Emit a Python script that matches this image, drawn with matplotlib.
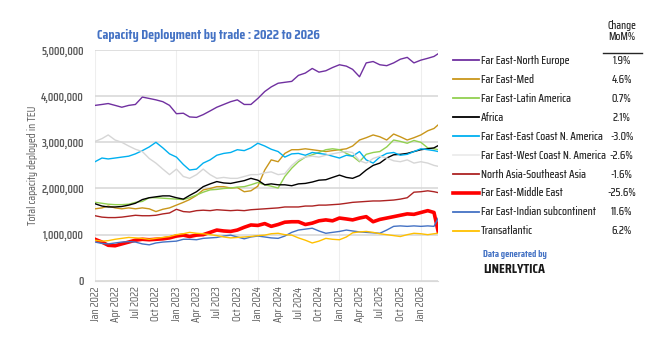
import numpy as np
import pandas as pd
import matplotlib
matplotlib.use("Agg")
import matplotlib.pyplot as plt
import matplotlib.dates as mdates
from matplotlib.ticker import FuncFormatter, MultipleLocator
from matplotlib.lines import Line2D

# dates: first of each month Jan 2022 .. Mar 2026, plus latest reading
dates = list(pd.date_range("2022-01-01", "2026-03-01", freq="MS")) + [pd.Timestamp("2026-03-20")]

# capacity in million TEU
north_europe = [3.80, 3.82, 3.84, 3.80, 3.76, 3.80, 3.82, 3.98, 3.95, 3.92, 3.88, 3.80,
                3.62, 3.63, 3.55, 3.54, 3.60, 3.68, 3.76, 3.82, 3.88, 3.92, 3.82, 3.82,
                3.95, 4.10, 4.20, 4.28, 4.30, 4.32, 4.45, 4.50, 4.60, 4.52, 4.55, 4.62,
                4.68, 4.65, 4.58, 4.42, 4.72, 4.75, 4.68, 4.66, 4.72, 4.80, 4.84, 4.72,
                4.78, 4.82, 4.86, 4.92]
med = [1.56, 1.58, 1.62, 1.58, 1.56, 1.58, 1.56, 1.58, 1.56, 1.50, 1.55, 1.58,
       1.64, 1.70, 1.76, 1.85, 1.97, 2.00, 2.04, 2.04, 2.01, 2.02, 1.93, 1.95,
       2.05, 2.40, 2.62, 2.58, 2.76, 2.84, 2.84, 2.86, 2.84, 2.82, 2.80, 2.82,
       2.84, 2.86, 2.92, 3.05, 3.10, 3.16, 3.12, 3.05, 3.18, 3.12, 3.05, 3.10,
       3.16, 3.25, 3.30, 3.38]
latin_america = [1.70, 1.68, 1.66, 1.65, 1.65, 1.66, 1.70, 1.72, 1.80, 1.80, 1.79, 1.78,
                 1.77, 1.76, 1.80, 1.86, 1.92, 1.97, 1.98, 2.00, 2.01, 2.03, 2.04, 2.08,
                 2.13, 2.08, 2.05, 2.01, 2.26, 2.44, 2.58, 2.68, 2.73, 2.78, 2.84, 2.86,
                 2.84, 2.76, 2.70, 2.58, 2.74, 2.78, 2.80, 2.90, 3.05, 3.02, 2.98, 3.04,
                 3.00, 2.88, 2.86, 2.84]
africa = [1.67, 1.62, 1.60, 1.60, 1.61, 1.64, 1.68, 1.76, 1.80, 1.82, 1.84, 1.84,
          1.80, 1.77, 1.85, 1.93, 2.04, 2.10, 2.15, 2.12, 2.11, 2.14, 2.17, 2.22,
          2.18, 2.08, 2.10, 2.08, 2.08, 2.06, 2.10, 2.11, 2.14, 2.18, 2.19, 2.24,
          2.29, 2.24, 2.22, 2.28, 2.40, 2.50, 2.55, 2.66, 2.73, 2.74, 2.76, 2.80,
          2.84, 2.86, 2.88, 2.93]
us_east = [2.58, 2.66, 2.64, 2.66, 2.68, 2.70, 2.75, 2.82, 2.90, 3.00, 2.88, 2.75,
           2.68, 2.52, 2.40, 2.42, 2.55, 2.62, 2.72, 2.76, 2.78, 2.84, 2.82, 2.88,
           2.98, 2.92, 2.85, 2.80, 2.68, 2.75, 2.76, 2.72, 2.78, 2.76, 2.74, 2.70,
           2.66, 2.72, 2.70, 2.80, 2.62, 2.55, 2.68, 2.76, 2.78, 2.72, 2.74, 2.80,
           2.86, 2.84, 2.82, 2.80]
us_west = [3.02, 3.08, 3.16, 3.05, 3.00, 2.92, 2.85, 2.80, 2.65, 2.55, 2.42, 2.30,
           2.42, 2.26, 2.22, 2.30, 2.42, 2.30, 2.22, 2.24, 2.22, 2.22, 2.26, 2.30,
           2.30, 2.34, 2.36, 2.30, 2.32, 2.50, 2.62, 2.68, 2.70, 2.68, 2.72, 2.75,
           2.78, 2.80, 2.78, 2.60, 2.55, 2.65, 2.70, 2.66, 2.60, 2.58, 2.62, 2.55,
           2.58, 2.55, 2.50, 2.48]
asia_sea = [1.41, 1.38, 1.37, 1.37, 1.38, 1.40, 1.42, 1.41, 1.41, 1.42, 1.45, 1.47,
            1.55, 1.50, 1.49, 1.52, 1.53, 1.52, 1.54, 1.53, 1.52, 1.53, 1.52, 1.54,
            1.55, 1.56, 1.57, 1.58, 1.60, 1.60, 1.60, 1.62, 1.62, 1.64, 1.64, 1.65,
            1.66, 1.68, 1.70, 1.71, 1.72, 1.73, 1.73, 1.74, 1.75, 1.77, 1.80, 1.92,
            1.93, 1.95, 1.93, 1.91]
middle_east = [0.90, 0.84, 0.77, 0.76, 0.80, 0.84, 0.88, 0.90, 0.89, 0.90, 0.91, 0.93,
               0.97, 0.99, 0.96, 0.99, 1.00, 1.05, 1.10, 1.08, 1.07, 1.10, 1.16, 1.21,
               1.20, 1.24, 1.18, 1.22, 1.27, 1.28, 1.28, 1.22, 1.25, 1.30, 1.32, 1.30,
               1.36, 1.34, 1.32, 1.36, 1.39, 1.28, 1.33, 1.36, 1.39, 1.42, 1.45, 1.44,
               1.48, 1.52, 1.48, 1.06]
indian_sub = [0.84, 0.81, 0.80, 0.82, 0.84, 0.85, 0.84, 0.80, 0.78, 0.82, 0.84, 0.85,
              0.86, 0.90, 0.90, 0.89, 0.92, 0.93, 0.94, 0.97, 0.99, 0.95, 0.91, 0.95,
              0.97, 0.95, 0.93, 0.92, 0.97, 1.05, 1.10, 1.12, 1.14, 1.08, 1.03, 1.05,
              1.07, 1.10, 1.08, 1.06, 1.05, 1.04, 1.03, 1.10, 1.18, 1.19, 1.18, 1.19,
              1.18, 1.19, 1.18, 1.36]
transatlantic = [0.88, 0.86, 0.87, 0.90, 0.92, 0.94, 0.93, 0.92, 0.90, 0.92, 0.94, 0.96,
                 1.00, 1.02, 1.05, 1.03, 1.02, 1.00, 0.98, 0.95, 0.93, 0.94, 0.95, 0.96,
                 0.98, 0.99, 1.02, 1.03, 1.00, 0.99, 0.93, 0.88, 0.82, 0.86, 0.92, 0.90,
                 0.89, 0.95, 1.04, 1.06, 1.07, 1.05, 1.02, 1.00, 0.98, 0.96, 1.00, 1.03,
                 1.02, 1.00, 1.02, 1.03]

trades = ["Far East-North Europe", "Far East-Med", "Far East-Latin America", "Africa",
          "Far East-East Coast N. America", "Far East-West Coast N. America",
          "North Asia-Southeast Asia", "Far East-Middle East",
          "Far East-Indian subcontinent", "Transatlantic"]
series = [north_europe, med, latin_america, africa, us_east, us_west,
          asia_sea, middle_east, indian_sub, transatlantic]
mom_change = ["1.9%", "4.6%", "0.7%", "2.1%", "-3.0%", "-2.6%", "-1.6%", "-25.6%", "11.6%", "6.2%"]
colors = ["#7030a0", "#c9961a", "#92d050", "#000000", "#00b0f0", "#d6d6d6",
          "#ad2323", "#ff0000", "#4472c4", "#ffc000"]
widths = [1.0, 1.0, 1.0, 1.0, 1.0, 1.0, 1.0, 2.6, 1.0, 1.0]

font = ["Saira Condensed", "Saira ExtraCondensed", "Archivo Narrow", "DejaVu Sans"]
plt.rcParams["font.family"] = font
grey_txt = "#595959"

fig = plt.figure(figsize=(6.6, 3.4), dpi=100)
ax = fig.add_axes([0.144, 0.174, 0.520, 0.679])

for vals, c, lw in zip(series, colors, widths):
    ax.plot(dates, np.array(vals) * 1e6, color=c, lw=lw, solid_joinstyle="round")

ax.set_ylim(0, 5e6)
ax.set_xlim(pd.Timestamp("2022-01-01"), dates[-1])
ax.yaxis.set_major_locator(MultipleLocator(1e6))
ax.yaxis.set_major_formatter(FuncFormatter(lambda v, p: f"{v:,.0f}"))
ax.xaxis.set_major_locator(mdates.MonthLocator(bymonth=[1, 4, 7, 10]))
ax.xaxis.set_major_formatter(mdates.DateFormatter("%b %Y"))
ax.xaxis.set_minor_locator(mdates.YearLocator())
ax.xaxis.remove_overlapping_locs = False
ax.grid(axis="y", color="#d9d9d9", lw=1.2)
ax.grid(axis="x", which="minor", color="#eeeeee", lw=0.8)
ax.set_axisbelow(True)
for s in ["left", "right", "top"]:
    ax.spines[s].set_visible(False)
ax.spines["bottom"].set_color("#d9d9d9")
ax.tick_params(axis="both", which="both", length=0, colors=grey_txt)
ax.tick_params(axis="y", labelsize=8.2, pad=8)
ax.tick_params(axis="x", labelsize=8, pad=4)
for lab in ax.get_xticklabels():
    lab.set_rotation(90)
for lab in ax.get_yticklabels():
    lab.set_fontweight("semibold")
ax.set_ylabel("Total capacity deployed in TEU", color=grey_txt, fontsize=8, labelpad=2)

fig.text(0.147, 0.895, "Capacity Deployment by trade : 2022 to 2026", color="#4472c4",
         fontsize=10, fontweight="bold", va="center")

# legend with MoM change column
fig.text(0.942, 0.91, "Change\nMoM%", ha="center", va="center", fontsize=8,
         color="#262626", fontweight="medium", linespacing=1.0)
fig.add_artist(Line2D([0.914, 0.973], [0.843, 0.843], color="#262626", lw=1.0))
y0, dy = 0.823, 0.0558
for i, (name, c, lw, chg) in enumerate(zip(trades, colors, widths, mom_change)):
    y = y0 - i * dy
    lc = "#ececec" if name == "Far East-West Coast N. America" else c
    fig.add_artist(Line2D([0.686, 0.725], [y, y], color=lc, lw=1.3 if lw < 2 else 2.6))
    fig.text(0.729, y, name, fontsize=8.2, color="#262626", fontweight="medium", va="center")
    fig.text(0.942, y, chg, fontsize=8.2, color="#262626", fontweight="medium",
             va="center", ha="center")

fig.text(0.732, 0.252, "Data generated by", fontsize=7, color="#4472c4",
         fontweight="bold", va="center")
fig.text(0.732, 0.208, "LINERLYTICA", fontsize=10, color="#1a1a1a",
         fontweight="bold", va="center")

fig.savefig("out.png", dpi=100)
